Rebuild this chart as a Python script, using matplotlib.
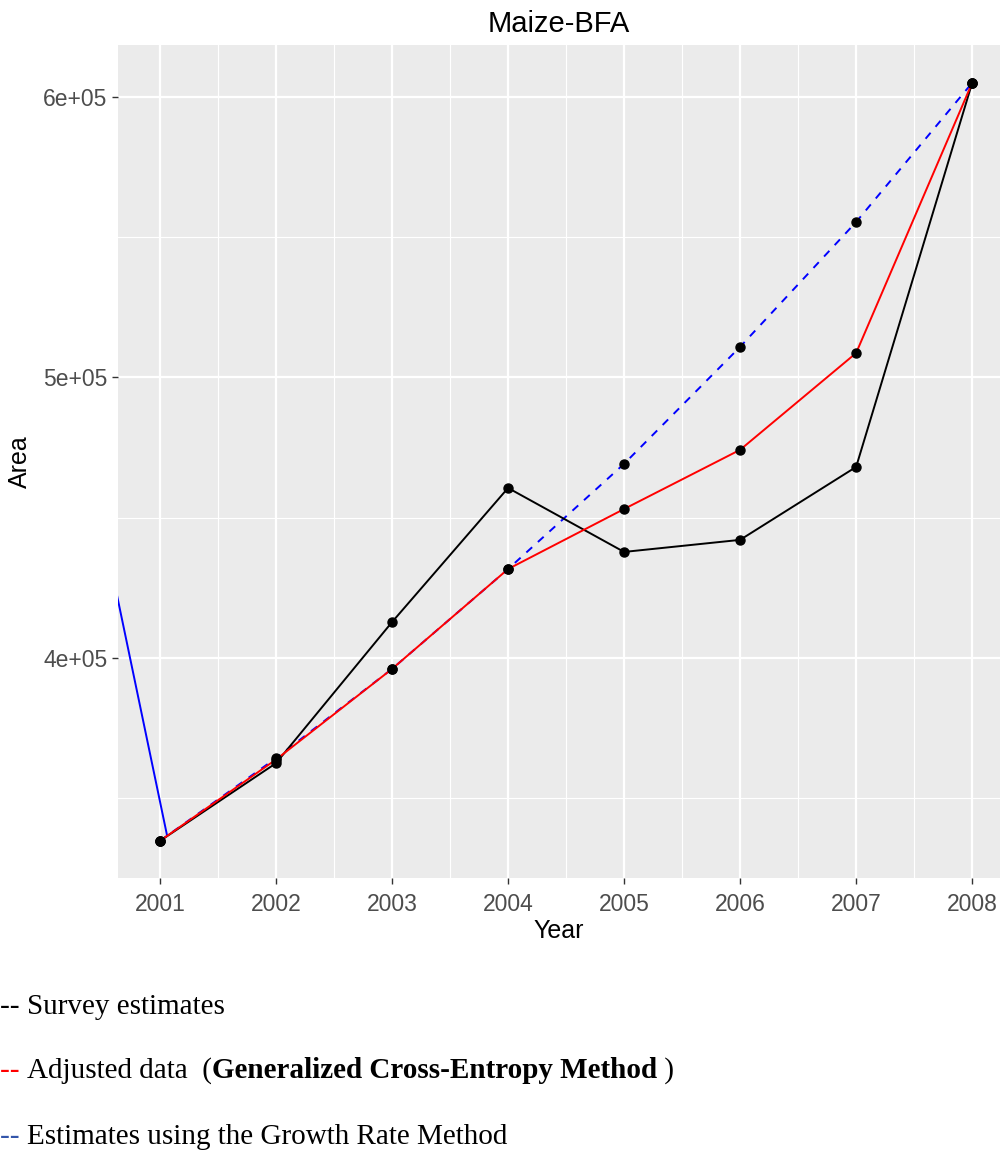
import numpy as np
import matplotlib
matplotlib.use("Agg")
import matplotlib.pyplot as plt

# data
years = [2001, 2002, 2003, 2004, 2005, 2006, 2007, 2008]
survey = [334800, 362500, 412800, 460600, 437800, 442100, 468100, 605000]
gce = [334800, 363800, 396100, 431700, 453100, 474200, 508700, 605000]
growth = [334800, 364300, 396100, 431700, 469200, 510900, 555400, 605000]
# stray solid blue segment entering from the left edge
stray_years = [2000.5, 2001.06]
stray_vals = [448000, 336900]

y_ticks = [4e5, 5e5, 6e5]
y_labels = ["4e+05", "5e+05", "6e+05"]

plt.rcParams['font.family'] = ['Liberation Sans', 'DejaVu Sans']

fig = plt.figure(figsize=(10, 11.51), dpi=100)
ax = fig.add_axes([0.118, 1 - 878 / 1151, 0.882, (878 - 45) / 1151])
ax.set_facecolor("#EBEBEB")
for s in ax.spines.values():
    s.set_visible(False)

ax.set_xlim(2000.638, 2008.24)
ax.set_ylim(321570, 618500)

ax.set_xticks(years)
ax.set_xticks(np.arange(2001.5, 2008, 1.0), minor=True)
ax.set_yticks(y_ticks)
ax.set_yticklabels(y_labels)
ax.set_yticks([350000, 450000, 550000], minor=True)
ax.grid(which="major", color="white", linewidth=1.6)
ax.grid(which="minor", color="white", linewidth=0.8)
ax.set_axisbelow(True)
ax.tick_params(which="major", length=4, width=1, color="#333333",
               labelsize=16.5, labelcolor="#4D4D4D")
ax.tick_params(axis="x", pad=7)
ax.tick_params(which="minor", length=0)

ax.plot(stray_years, stray_vals, color="blue", lw=1.4, zorder=2)
ax.plot(years, growth, color="blue", lw=1.4, ls=(0, (4, 4)), zorder=2)
ax.plot(years, survey, color="black", lw=1.4, zorder=3)
ax.plot(years, gce, color="red", lw=1.4, zorder=4)
for series in (growth, survey, gce):
    ax.plot(years, series, "o", color="black", ms=6.5, zorder=5)

ax.set_title("Maize-BFA", fontsize=21, pad=9)
ax.set_xlabel("Year", fontsize=18, labelpad=2)
ax.set_ylabel("Area", fontsize=18, labelpad=8)

# caption lines below the plot: coloured dashes, then the text pieces chained
serif = ['Liberation Serif', 'DejaVu Serif']
fs = 21
rows = [
    (1 - 1007 / 1151, "black", [("Survey estimates", "normal")]),
    (1 - 1071 / 1151, "red", [("Adjusted data  (", "normal"),
                              ("Generalized Cross-Entropy Method", "bold"),
                              (" )", "normal")]),
    (1 - 1137 / 1151, "#3355AA", [("Estimates using the Growth Rate Method", "normal")]),
]
for y, col, parts in rows:
    anchor = fig.text(0.0, y, "-- ", color=col, fontsize=fs, family=serif, va="center")
    for txt, w in parts:
        anchor = fig.add_artist(plt.Annotation(txt, xy=(1, 0.5), xycoords=anchor,
                                               va="center", ha="left", fontsize=fs,
                                               family=serif, weight=w, color="black"))

fig.savefig("out.png", dpi=100)
